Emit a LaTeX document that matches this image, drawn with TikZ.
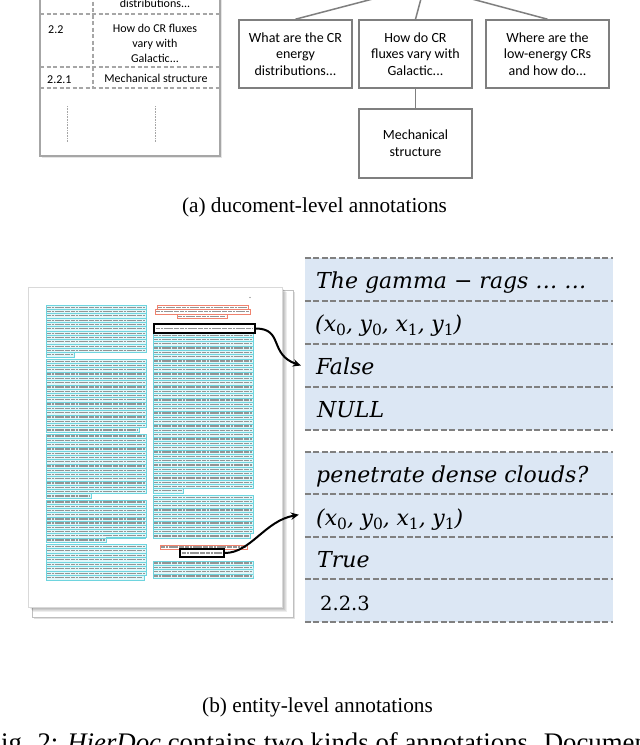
\documentclass[tikz,border=0pt]{standalone}
\usepackage{fontspec}
\setmainfont{Liberation Serif}
\newfontfamily\cali{Carlito}
\newfontfamily\dser{DejaVu Serif}
\usetikzlibrary{arrows.meta}
\definecolor{boxgray}{RGB}{127,127,127}
\definecolor{tblgray}{RGB}{166,166,166}
\definecolor{rowfill}{RGB}{220,231,244}
\definecolor{dashgray}{RGB}{128,128,128}
\definecolor{cyanb}{RGB}{110,212,222}
\definecolor{cyanf}{RGB}{226,247,249}
\definecolor{salmon}{RGB}{240,130,110}
\newcommand\sbt[1]{\raisebox{-0.22em}{\upshape\fontsize{15.5}{15.5}\selectfont #1}}
\newcommand\tblk[5]{%
  \pgfmathtruncatemacro\blkn{round((#4-#2)/4.3)}%
  \pgfmathsetmacro\blkh{(#4-#2)/\blkn}%
  \pgfmathtruncatemacro\blkm{\blkn-1}%
  \pgfmathsetmacro\blkx{#1+#5*(#3-#1)}%
  \fill[cyanf] (#1,#2) rectangle (#3,#4-\blkh);
  \fill[cyanf] (#1,#4-\blkh) rectangle (\blkx,#4);
  \foreach \i in {1,...,\blkm} {
    \draw[txtline] (#1+1,{#2+(\i-0.5)*\blkh}) -- (#3-1,{#2+(\i-0.5)*\blkh});
    \draw[blksep] (#1,{#2+\i*\blkh}) -- (#3,{#2+\i*\blkh});
  }
  \draw[txtline] (#1+1,{#4-0.5*\blkh}) -- (\blkx-1,{#4-0.5*\blkh});
  \draw[blkb] (#1,#2) -- (#3,#2) -- (#3,#4-\blkh) -- (\blkx,#4-\blkh) -- (\blkx,#4) -- (#1,#4) -- cycle;
}
\begin{document}
\begin{tikzpicture}[x=1pt,y=-1pt,
  treebox/.style={draw=boxgray, line width=1.6pt, font=\cali\fontsize{14}{16.7}\selectfont, align=center, inner sep=0pt, fill=white},
  treeline/.style={draw=boxgray, line width=1.5pt},
  tbltext/.style={font=\cali\fontsize{12}{14.8}\selectfont, inner sep=0pt, align=center},
  tbldash/.style={draw=tblgray, line width=1.2pt, dash pattern=on 4pt off 2.5pt},
  tbldot/.style={draw=tblgray, line width=0.8pt, dash pattern=on 0.8pt off 0.8pt},
  rowbox/.style={fill=rowfill, draw=none, minimum width=308pt, inner sep=0pt},
  rowline/.style={draw=dashgray, line width=1.8pt, dash pattern=on 6pt off 2.5pt},
  rowtext/.style={font=\dser\itshape\fontsize{22}{22}\selectfont, anchor=base west, inner sep=0pt},
  captext/.style={font=\fontsize{21.3}{24}\selectfont, inner sep=0pt, anchor=base},
  link/.style={draw=black, line width=2pt, -{Stealth[length=8pt,width=7.5pt]}},
  txtline/.style={draw=black!42, line width=1.3pt, dash pattern=on 4pt off 0.8pt on 2pt off 0.8pt on 6pt off 0.8pt on 3pt off 0.8pt on 5pt off 0.8pt},
  blkb/.style={draw=cyanb, line width=0.8pt},
  blksep/.style={draw=cyanb, line width=0.5pt},
  redb/.style={draw=salmon, line width=0.9pt},
  selbox/.style={draw=black, line width=1.5pt, inner sep=0pt}]
\useasboundingbox (0,0) rectangle (640,745);
\clip (0,0) rectangle (640,745);
\fill[white] (0,0) rectangle (640,745);

% ---------- (a) left table
\fill[black!10] (41.5,-5) rectangle (221.5,157.5);
\filldraw[fill=white, draw=tblgray, line width=1.2pt] (40,-5) rectangle (220,156);
\draw[tbldash] (93,-5) -- (93,88);
\draw[tbldash] (40,14) -- (220,14);
\draw[tbldash] (40,67) -- (220,67);
\draw[tbldash] (40,88) -- (220,88);
\draw[tbldot] (67,106) -- (67,142);
\draw[tbldot] (155,106) -- (155,142);
\node[tbltext, anchor=base] (d1) at (155,7) {distributions...};
\node[tbltext, anchor=base west] (n22) at (48,33) {2.2};
\node[tbltext] (t22) at (155,43.5) {How do CR fluxes\\vary with\\Galactic...};
\node[tbltext, anchor=base west] (n221) at (47,83) {2.2.1};
\node[tbltext, anchor=base] (t221) at (156,82) {Mechanical structure};

% ---------- (a) tree
\node[treebox, minimum width=113pt, minimum height=68pt] (q1) at (295.5,54) {What are the CR\\energy\\distributions...};
\node[treebox, minimum width=113pt, minimum height=68pt] (q2) at (415.5,54) {How do CR\\fluxes vary with\\Galactic...};
\node[treebox, minimum width=123pt, minimum height=68pt] (q3) at (547.5,54) {Where are the\\low-energy CRs\\and how do...};
\node[treebox, minimum width=113pt, minimum height=69pt] (q4) at (415.5,143.5) {Mechanical\\structure};
\coordinate (r1) at (388,-5);
\coordinate (r2) at (422,-5);
\coordinate (r3) at (457,-5);
\draw[treeline] (q1.north) -- (r1);
\draw[treeline] (q2.north) -- (r2);
\draw[treeline] (q3.north) -- (r3);
\draw[treeline] (q2.south) -- (q4.north);

\node[captext] (capa) at (314.5,212) {(a)\ ducoment-level annotations};

% ---------- (b) document thumbnail
\fill[black!12] (34,292) rectangle (295,619);
\filldraw[fill=white, draw=black!25, line width=0.4pt] (32,290) rectangle (293,617);
\foreach \k in {1,...,5} { \fill[black, opacity=0.07] (28+\k,287+\k) rectangle (282+\k,607+\k); }
\filldraw[fill=white, draw=black!15, line width=0.3pt] (28,287) rectangle (282,607);
\fill[black!60] (250,297.5) circle (0.7);

\tblk{46}{305}{146}{357}{0.28}
\tblk{46}{359}{146}{432}{0.93}
\tblk{46}{434}{146}{498}{0.45}
\tblk{46}{500}{146}{542}{0.6}
\tblk{46}{544}{146}{580}{0.98}

\draw[redb] (157,305) rectangle (248,309.5);
\draw[redb] (155,309.5) rectangle (250,314);
\draw[redb] (177,314) rectangle (227,318.5);
\draw[txtline, line width=1.1pt] (158,307.25) -- (247,307.25);
\draw[txtline, line width=1.1pt] (156,311.75) -- (249,311.75);
\draw[txtline, line width=1.1pt] (178,316.25) -- (226,316.25);

\tblk{153}{333}{253}{493}{0.3}
\tblk{153}{495}{253}{538}{0.97}
\tblk{153}{561}{253}{578}{1}
\draw[redb] (160,545) rectangle (247,549);
\draw[txtline, line width=1.1pt] (161,547) -- (246,547);

\node[selbox, minimum width=101pt, minimum height=9pt] (sel1) at (204.5,328.5) {};
\draw[txtline] (156,328.5) -- (253,328.5);
\node[selbox, minimum width=44pt, minimum height=8pt] (sel2) at (202,553) {};
\draw[txtline, line width=1.2pt] (182,553) -- (222,553);

% ---------- (b) tables
\node[rowbox, minimum height=43pt] (t1a) at (459,279.5) {};
\node[rowbox, minimum height=43pt] (t1b) at (459,322.5) {};
\node[rowbox, minimum height=43pt] (t1c) at (459,365.5) {};
\node[rowbox, minimum height=43pt] (t1d) at (459,408.5) {};
\node[rowbox, minimum height=42.5pt] (t2a) at (459,473.25) {};
\node[rowbox, minimum height=42.5pt] (t2b) at (459,515.75) {};
\node[rowbox, minimum height=42.5pt] (t2c) at (459,558.25) {};
\node[rowbox, minimum height=42.5pt] (t2d) at (459,600.75) {};
\foreach \r in {t1a,t1b,t1c,t1d,t2a,t2b,t2c,t2d} {
  \draw[rowline] (\r.north west) -- (\r.north east);
}
\draw[rowline] (t1d.south west) -- (t1d.south east);
\draw[rowline] (t2d.south west) -- (t2d.south east);

\node[rowtext] (x1a) at (316,288) {The gamma − rags … …};
\node[rowtext] (x1b) at (315,331) {(x\sbt{0},\kern0.3em y\sbt{0},\kern0.3em x\sbt{1},\kern0.3em y\sbt{1})};
\node[rowtext] (x1c) at (316,374) {False};
\node[rowtext] (x1d) at (317,417.5) {NULL};
\node[rowtext] (x2a) at (316,482) {penetrate dense clouds?};
\node[rowtext] (x2b) at (316,525) {(x\sbt{0},\kern0.3em y\sbt{0},\kern0.3em x\sbt{1},\kern0.3em y\sbt{1})};
\node[rowtext] (x2c) at (317,567.5) {True};
\node[rowtext, font=\dser\fontsize{19.5}{19.5}\selectfont] (x2d) at (320,610) {2.2.3};

% ---------- arrows
\draw[link] (sel1.east) .. controls +(28,0) and +(-32,-11) .. ([xshift=-4pt]t1c.west);
\draw[link] (sel2.east) .. controls +(26,0) and +(-34,6) .. ([xshift=-6pt,yshift=1pt]t2b.west);

\node[captext] (capb) at (317.5,712.5) {(b) entity-level annotations};
\node[captext, font=\fontsize{26.8}{30}\selectfont, anchor=base west] (fig) at (-14,751) {Fig. 2: \textit{HierDoc} contains two kinds of annotations. Document-level};
\end{tikzpicture}
\end{document}
